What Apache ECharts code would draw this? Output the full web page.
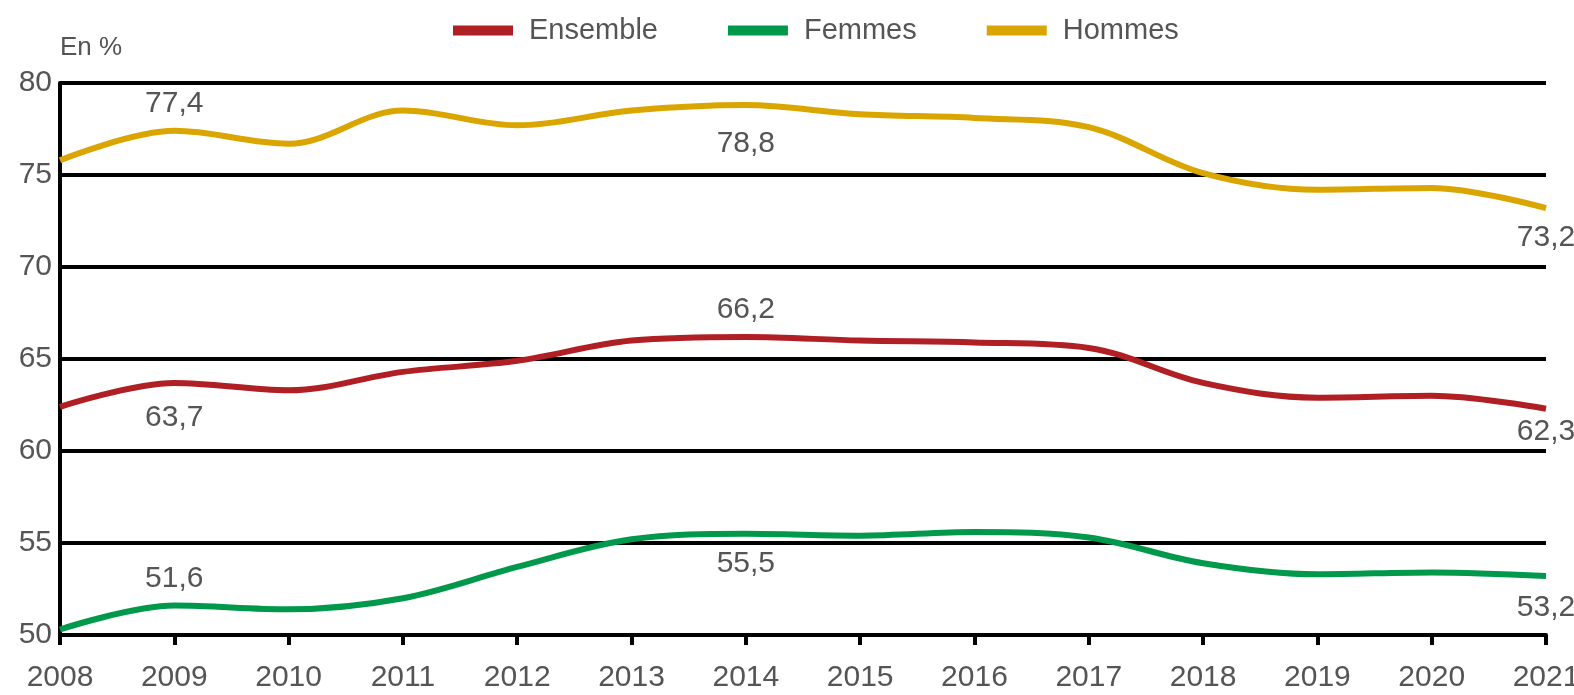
<!DOCTYPE html>
<html>
<head>
<meta charset="utf-8">
<script src="https://cdn.jsdelivr.net/npm/echarts@6/dist/echarts.min.js"></script>
<style>
  html, body { margin: 0; padding: 0; background: #fff; }
  #chart { width: 1574px; height: 695px; }
</style>
</head>
<body>
<div id="chart"></div>
<script>
// années
var years = ['2008', '2009', '2010', '2011', '2012', '2013', '2014', '2015', '2016', '2017', '2018', '2019', '2020', '2021'];

// taux en %
var ensemble = [62.4, 63.7, 63.3, 64.3, 64.9, 66.0, 66.2, 66.0, 65.9, 65.6, 63.7, 62.9, 63.0, 62.3];
var femmes   = [50.3, 51.6, 51.4, 52.0, 53.7, 55.2, 55.5, 55.4, 55.6, 55.3, 53.9, 53.3, 53.4, 53.2];
var hommes   = [75.8, 77.4, 76.7, 78.5, 77.7, 78.5, 78.8, 78.3, 78.1, 77.6, 75.1, 74.2, 74.3, 73.2];

// points étiquetés : [index, position, distance]
var ensembleLabels = [[1, 'bottom', 20], [6, 'top', 12], [13, 'bottom', 8]];
var femmesLabels   = [[1, 'top', 12], [6, 'bottom', 15], [13, 'bottom', 17]];
var hommesLabels   = [[1, 'top', 12], [6, 'bottom', 24], [13, 'bottom', 15]];

var textColor = '#555';
var fontFamily = '"Liberation Sans", Arial, sans-serif';

function withLabels(values, labels) {
    return values.map(function (v, i) {
        var item = { value: v };
        labels.forEach(function (l) {
            if (l[0] === i) {
                item.label = { show: true, position: l[1], distance: l[2] };
            }
        });
        return item;
    });
}

function makeSeries(name, color, values, labels) {
    return {
        name: name,
        type: 'line',
        smooth: 0.35,
        symbol: 'circle',
        symbolSize: 0,
        showSymbol: true,
        lineStyle: { color: color, width: 6 },
        itemStyle: { color: color },
        label: {
            show: false,
            color: textColor,
            fontSize: 30,
            fontFamily: fontFamily,
            formatter: function (p) { return String(p.value).replace('.', ','); }
        },
        data: withLabels(values, labels)
    };
}

var myChart = echarts.init(document.getElementById('chart'));
var option = {
    animation: false,
    backgroundColor: '#fff',
    textStyle: { fontFamily: fontFamily },
    legend: {
        left: 448,
        top: 11,
        icon: 'rect',
        itemWidth: 60,
        itemHeight: 10,
        itemGap: 70,
        textStyle: { color: textColor, fontSize: 29, fontFamily: fontFamily, padding: [0, 0, 0, 11] },
        data: ['Ensemble', 'Femmes', 'Hommes']
    },
    grid: { left: 60, right: 28, top: 83, bottom: 60, containLabel: false, outerBoundsMode: 'none' },
    xAxis: {
        type: 'category',
        boundaryGap: false,
        data: years,
        axisLine: { lineStyle: { color: '#000', width: 4 } },
        axisTick: { show: true, length: 10, lineStyle: { color: '#000', width: 4 } },
        axisLabel: { color: textColor, fontSize: 30, fontFamily: fontFamily, margin: 28 },
        splitLine: { show: false }
    },
    yAxis: {
        type: 'value',
        min: 50,
        max: 80,
        interval: 5,
        name: 'En %',
        nameLocation: 'end',
        nameGap: 22,
        nameTextStyle: { color: textColor, fontSize: 26, fontFamily: fontFamily, align: 'left' },
        axisLine: { show: true, lineStyle: { color: '#000', width: 4 } },
        axisTick: { show: false },
        axisLabel: { color: textColor, fontSize: 30, fontFamily: fontFamily, margin: 8 },
        splitLine: { lineStyle: { color: '#000', width: 4 } }
    },
    series: [
        makeSeries('Ensemble', '#AF1F24', ensemble, ensembleLabels),
        makeSeries('Femmes', '#00994C', femmes, femmesLabels),
        makeSeries('Hommes', '#DBA500', hommes, hommesLabels)
    ]
};
myChart.setOption(option);
</script>
</body>
</html>
